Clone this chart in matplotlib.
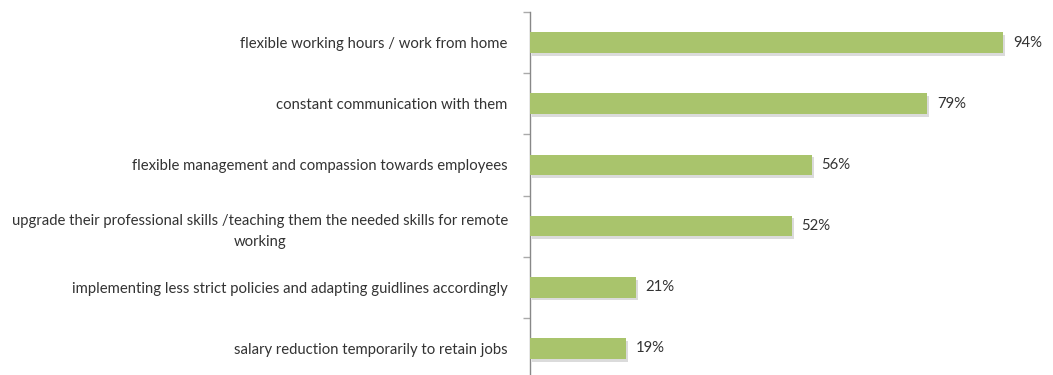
import matplotlib
matplotlib.use('Agg')
import matplotlib.pyplot as plt
import matplotlib.patheffects as pe

categories = [
    'flexible working hours / work from home',
    'constant communication with them',
    'flexible management and compassion towards employees',
    'upgrade their professional skills /teaching them the needed skills for remote\nworking',
    'implementing less strict policies and adapting guidlines accordingly',
    'salary reduction temporarily to retain jobs',
]
values = [94, 79, 56, 52, 21, 19]

plt.rcParams['font.family'] = ['Lato', 'DejaVu Sans']

fig = plt.figure(figsize=(10.53, 3.75), dpi=100)
ax = fig.add_axes([530 / 1053, -4 / 375, 523 / 1053, 367 / 375])

ypos = list(range(len(categories)))
bars = ax.barh(ypos, values, height=0.34, color='#a9c46c', zorder=3)
for b in bars:
    b.set_path_effects([pe.SimplePatchShadow(offset=(1.5, -2), shadow_rgbFace='#999999', alpha=0.35),
                        pe.Normal()])

for y, v in zip(ypos, values):
    ax.text(v + 2.0, y, f'{v}%', va='center', ha='left', fontsize=10.7, color='#333333')

ax.set_xlim(0, 104)
ax.set_ylim(len(categories) - 0.5, -0.5)

# category labels on the left, boundary ticks between rows
ax.set_yticks(ypos)
ax.set_yticklabels(categories, fontsize=10.7, color='#333333',
                   multialignment='center', linespacing=1.65)
ax.tick_params(axis='y', which='major', length=0, pad=16)
ax.set_yticks([i - 0.5 for i in range(len(categories) + 1)], minor=True)
ax.tick_params(axis='y', which='minor', length=5, color='#aaaaaa', width=1)

ax.set_xticks([])
for side in ['top', 'right', 'bottom']:
    ax.spines[side].set_visible(False)
ax.spines['left'].set_color('#888888')
ax.spines['left'].set_linewidth(1)

fig.savefig('out.png', dpi=100)
